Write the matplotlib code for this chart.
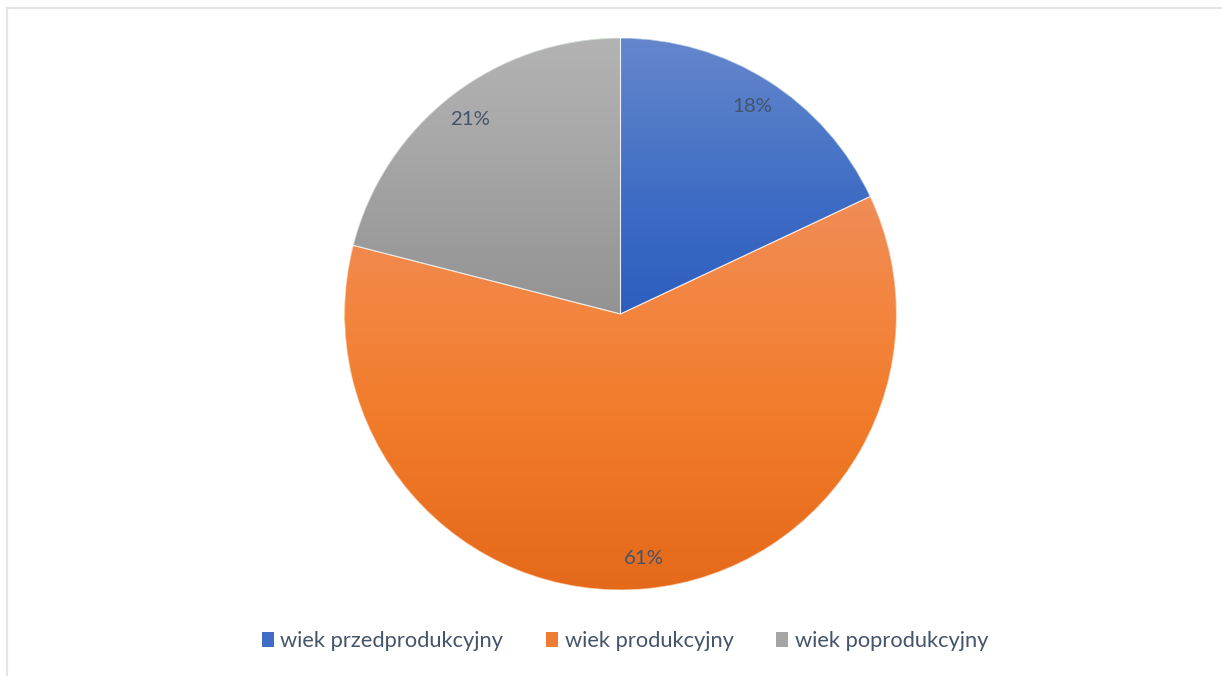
import matplotlib
matplotlib.use('Agg')
import matplotlib.pyplot as plt
import numpy as np
from matplotlib.patches import Patch, Wedge
from matplotlib.lines import Line2D
from matplotlib.colors import to_rgb

categories = ['wiek przedprodukcyjny', 'wiek produkcyjny', 'wiek poprodukcyjny']
values = [18, 61, 21]
# vertical gradient stops (top -> bottom) for each slice
grad_pos = [0.0, 0.35, 0.6, 1.0]
grad_colors = [
    ['#6586cd', '#4d78c7', '#3e6bc4', '#2d5ebf'],
    ['#f08c56', '#f3833a', '#f07a28', '#e5691a'],
    ['#b3b3b3', '#a9a9a9', '#a0a0a0', '#939393'],
]
legend_colors = ['#3f6cc4', '#ee7d33', '#a5a5a5']
text_color = '#44546a'
FONT = ['Lato', 'DejaVu Sans']

W, H = 1222, 676
fig = plt.figure(figsize=(W / 100, H / 100), dpi=100)
renderer = fig.canvas.get_renderer()


def fit_size(s, target_px, base=16):
    t = fig.text(0, 0, s, fontsize=base, family=FONT)
    w = t.get_window_extent(renderer).width
    t.remove()
    return base * target_px / w


label_fs = fit_size('18%', 40)
legend_fs = fit_size(categories[0], 225)

cx, cy, r = 620.5, 314, 276
ax = fig.add_axes([(cx - r) / W, (H - cy - r) / H, 2 * r / W, 2 * r / H])
wedges, texts, autotexts = ax.pie(
    values, startangle=90, counterclock=False, radius=1,
    autopct='%1.0f%%', pctdistance=0.89,
    wedgeprops=dict(linewidth=0),
    textprops=dict(color=text_color, family=FONT, fontsize=label_fs))

g = np.linspace(0, 1, 256)
for w, stops in zip(wedges, grad_colors):
    bb = w.get_path().get_extents()
    rgb = np.array([to_rgb(s) for s in stops])
    c = np.stack([np.interp(g, grad_pos, rgb[:, k]) for k in range(3)], axis=-1)[:, None, :]
    im = ax.imshow(c, extent=(bb.x0, bb.x1, bb.y0, bb.y1), origin='upper',
                   aspect='auto', interpolation='bilinear', zorder=1.5)
    im.set_clip_path(w)
    ax.add_patch(Wedge((0, 0), 1, w.theta1, w.theta2, facecolor='none',
                       edgecolor=(1, 1, 1, 0.6), linewidth=0.8, zorder=2))
for t in autotexts:
    t.set_zorder(5)

ax.set_xlim(-1, 1)
ax.set_ylim(-1, 1)
ax.set_aspect('equal')
ax.axis('off')

handles = [Patch(facecolor=c, edgecolor='none') for c in legend_colors]
fig.legend(handles, categories, loc='center', bbox_to_anchor=(625 / W, (H - 641) / H),
           ncol=3, frameon=False, prop=dict(family=FONT, size=legend_fs),
           handlelength=0.55, handleheight=0.68, handletextpad=0.3,
           columnspacing=1.95, labelcolor=text_color)

border = '#e1e4e8'
fig.add_artist(Line2D([7.5 / W, 7.5 / W], [0, (H - 7.5) / H], transform=fig.transFigure,
                      color=border, linewidth=1.5))
fig.add_artist(Line2D([7.5 / W, 1], [(H - 8) / H, (H - 8) / H], transform=fig.transFigure,
                      color=border, linewidth=1.5))

fig.savefig('out.png', dpi=100, facecolor='white')
